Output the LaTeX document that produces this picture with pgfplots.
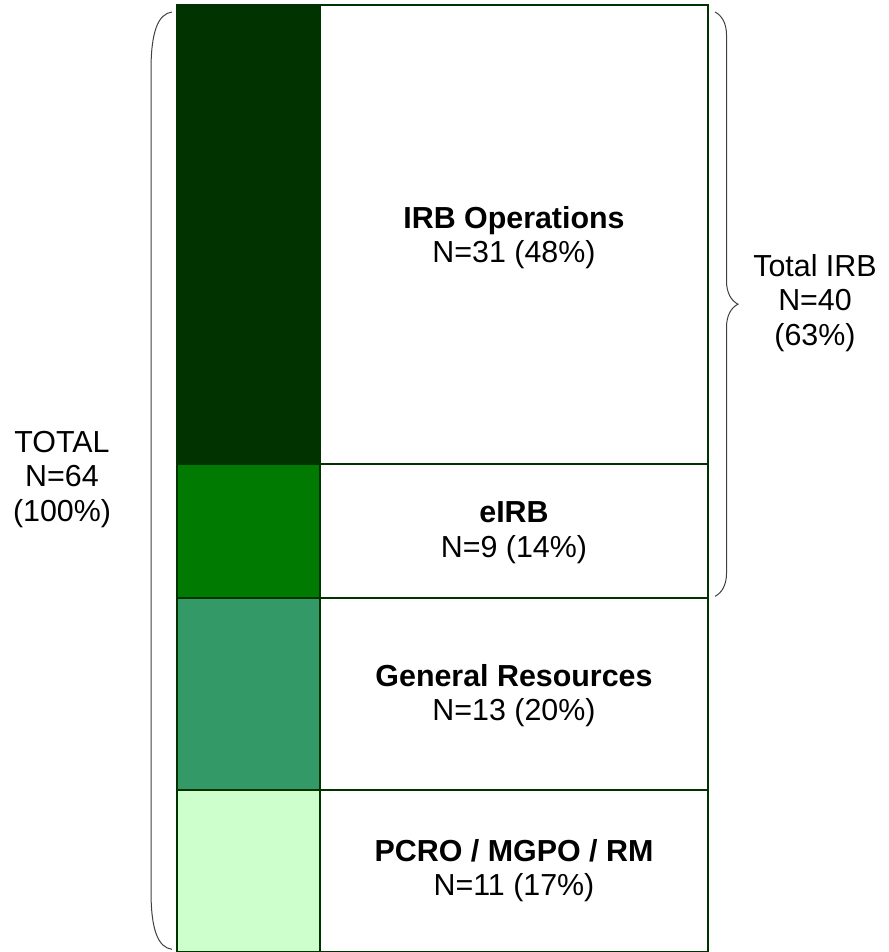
\documentclass[border=0pt]{standalone}
\usepackage{fontspec}
\setmainfont{Liberation Sans}
\usepackage{pgfplots}
\pgfplotsset{compat=1.18}
\usetikzlibrary{decorations.pathreplacing}

\definecolor{gDark}{HTML}{003300}
\definecolor{gMid}{HTML}{007A00}
\definecolor{gSea}{HTML}{339966}
\definecolor{gLight}{HTML}{CCFFCC}

% shared frame: x in pixels of the original, y in counts
\pgfplotsset{frame/.style={
  scale only axis, width=444pt, height=476pt,
  xmin=0, xmax=888, ymin=0.1, ymax=64.34,
  hide axis, ybar stacked, clip=false,
}}
\tikzset{lbl/.style={font=\fontsize{15.2}{17.2}\selectfont, align=center, inner sep=0pt}}

\begin{document}
\begin{tikzpicture}
% coloured column
\begin{axis}[frame, bar width=143]
\addplot[fill=gLight, draw=gDark, line width=1pt] coordinates {(248.5,11)};
\addplot[fill=gSea, draw=gDark, line width=1pt] coordinates {(248.5,13)};
\addplot[fill=gMid, draw=gDark, line width=1pt] coordinates {(248.5,9)};
\addplot[fill=gDark, draw=gDark, line width=1pt] coordinates {(248.5,31)};
\end{axis}
% label column
\begin{axis}[frame, bar width=388]
\addplot[fill=white, draw=gDark, line width=1pt] coordinates {(514,11)};
\addplot[fill=white, draw=gDark, line width=1pt] coordinates {(514,13)};
\addplot[fill=white, draw=gDark, line width=1pt] coordinates {(514,9)};
\addplot[fill=white, draw=gDark, line width=1pt] coordinates {(514,31)};

\coordinate (L1) at (axis cs:514,48.3);
\coordinate (L2) at (axis cs:514,28.4);
\coordinate (L3) at (axis cs:514,17.4);
\coordinate (L4) at (axis cs:514,5.6);
\coordinate (R) at (axis cs:815,43.9);
\coordinate (T) at (axis cs:62,32.0);
\coordinate (BL) at (rel axis cs:0,0);
\coordinate (TR) at (rel axis cs:1,1);

% left bracket
\draw[black!75, line width=0.5pt]
  (axis cs:172,63.53) .. controls (axis cs:158,63.4) and (axis cs:151,62.2) ..
  (axis cs:151,59.6) -- (axis cs:151,4.2) .. controls (axis cs:151,1.6) and
  (axis cs:158,0.4) .. (axis cs:172,0.28);
% right brace
\draw[black!75, line width=0.5pt, decorate,
  decoration={brace, amplitude=11.5pt, aspect=0.5}]
  (axis cs:715,63.53) -- (axis cs:715,24.1);
\end{axis}

\node[lbl] at (L1) {\textbf{IRB Operations}\\N=31 (48\%)};
\node[lbl] at (L2) {\textbf{eIRB}\\N=9 (14\%)};
\node[lbl] at (L3) {\textbf{General Resources}\\N=13 (20\%)};
\node[lbl] at (L4) {\textbf{PCRO / MGPO / RM}\\N=11 (17\%)};
\node[lbl] at (R) {Total IRB\\N=40\\(63\%)};
\node[lbl] at (T) {TOTAL\\N=64\\(100\%)};
\pgfresetboundingbox
\useasboundingbox (BL) rectangle (TR);
\end{tikzpicture}
\end{document}
